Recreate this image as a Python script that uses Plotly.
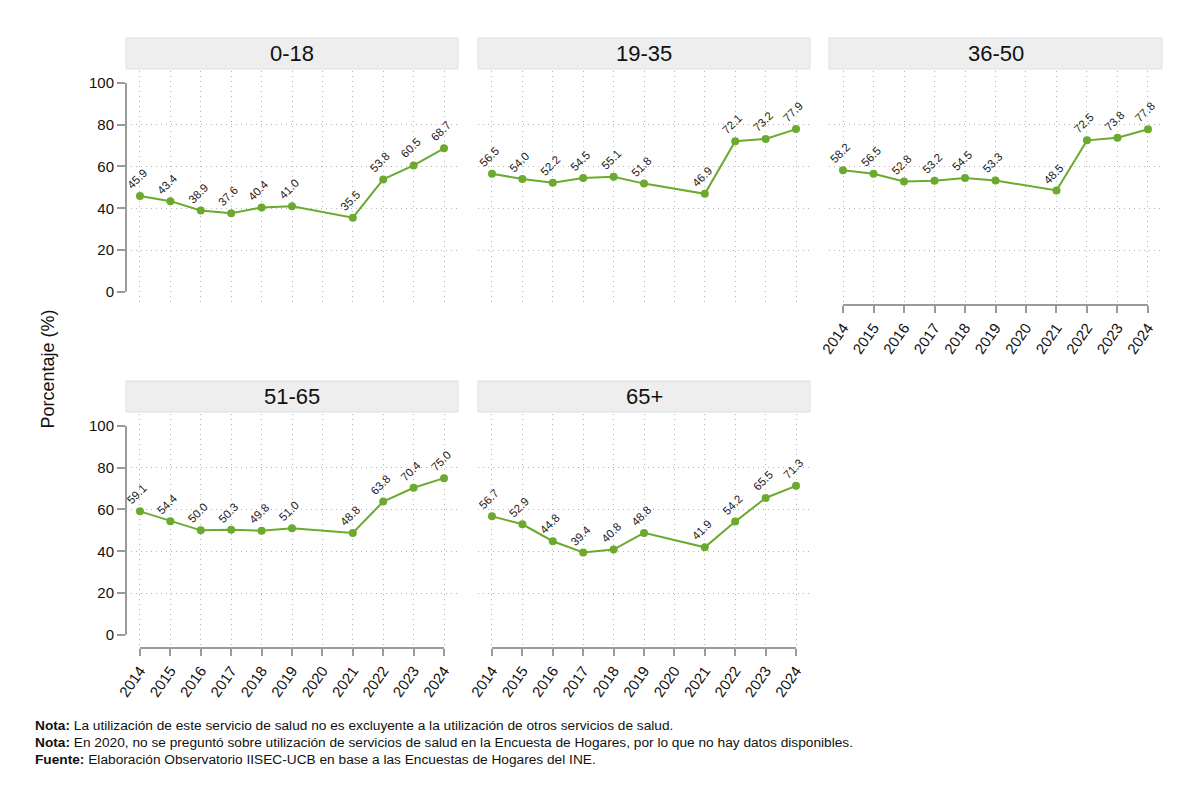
import plotly.graph_objects as go

# ---------------- data ----------------
years = [2014, 2015, 2016, 2017, 2018, 2019, 2021, 2022, 2023, 2024]
tick_years = [2014, 2015, 2016, 2017, 2018, 2019, 2020, 2021, 2022, 2023, 2024]
groups = ["0-18", "19-35", "36-50", "51-65", "65+"]
v_0_18 = [45.9, 43.4, 38.9, 37.6, 40.4, 41.0, 35.5, 53.8, 60.5, 68.7]
v_19_35 = [56.5, 54.0, 52.2, 54.5, 55.1, 51.8, 46.9, 72.1, 73.2, 77.9]
v_36_50 = [58.2, 56.5, 52.8, 53.2, 54.5, 53.3, 48.5, 72.5, 73.8, 77.8]
v_51_65 = [59.1, 54.4, 50.0, 50.3, 49.8, 51.0, 48.8, 63.8, 70.4, 75.0]
v_65 = [56.7, 52.9, 44.8, 39.4, 40.8, 48.8, 41.9, 54.2, 65.5, 71.3]
series = [v_0_18, v_19_35, v_36_50, v_51_65, v_65]
y_ticks = [0, 20, 40, 60, 80, 100]
y_grid = [20, 40, 60, 80]

notes = [
    "<b>Nota:</b> La utilización de este servicio de salud no es excluyente a la utilización de otros servicios de salud.",
    "<b>Nota:</b> En 2020, no se preguntó sobre utilización de servicios de salud en la Encuesta de Hogares, por lo que no hay datos disponibles.",
    "<b>Fuente:</b> Elaboración Observatorio IISEC-UCB en base a las Encuestas de Hogares del INE.",
]

# ---------------- layout geometry (pixels) ----------------
W, H = 1200, 801
GREEN = "#6BAA2F"
AXC = "#9A9A9A"
GRIDC = "#B5B5B5"
FONT = "Liberation Sans, Arial, sans-serif"
col_px = [(126, 458), (478, 810), (829, 1162)]
row_px = [(71, 305), (414, 648)]
head_px = [(38, 69), (381, 412)]
positions = [(0, 0), (0, 1), (0, 2), (1, 0), (1, 1)]


def px_x(p):
    return p / W


def px_y(p):
    return 1 - p / H


fig = go.Figure()
shapes = []
annotations = []

for i, (g, vals) in enumerate(zip(groups, series)):
    r, c = positions[i]
    n = i + 1
    xa = "x" if n == 1 else f"x{n}"
    ya = "y" if n == 1 else f"y{n}"
    fig.add_trace(go.Scatter(
        x=years, y=vals, xaxis=xa, yaxis=ya, mode="lines+markers",
        line=dict(color=GREEN, width=2), marker=dict(color=GREEN, size=8),
        showlegend=False, hoverinfo="x+y"))

    show_x = (r == 1) or (c == 2)
    show_y = (c == 0)
    xd = [px_x(col_px[c][0]), px_x(col_px[c][1])]
    yd = [px_y(row_px[r][1]), px_y(row_px[r][0])]
    xkey = "xaxis" if n == 1 else f"xaxis{n}"
    ykey = "yaxis" if n == 1 else f"yaxis{n}"
    fig.update_layout(**{
        xkey: dict(
            domain=xd, anchor=ya, range=[2013.54, 2024.46], automargin=False,
            tickmode="array", tickvals=tick_years,
            ticktext=[str(t) for t in tick_years],
            showticklabels=show_x, ticks="outside" if show_x else "",
            ticklen=7, tickwidth=2, tickcolor=AXC, tickangle=-55,
            tickfont=dict(family=FONT, size=15, color="#111"),
            showgrid=True, gridcolor=GRIDC, gridwidth=1, griddash="1px,4px",
            showline=False, zeroline=False, fixedrange=True),
        ykey: dict(
            domain=yd, anchor=xa, range=[-6.3, 105.7], automargin=False,
            tickmode="array", tickvals=y_ticks,
            showticklabels=show_y, ticks="outside" if show_y else "",
            ticklen=8, tickwidth=2, tickcolor=AXC,
            tickfont=dict(family=FONT, size=15, color="#111"),
            showgrid=False, zeroline=False, showline=False,
            minor=dict(tickmode="array", tickvals=y_grid, showgrid=True,
                       gridcolor=GRIDC, gridwidth=1, griddash="1px,4px",
                       ticks=""),
            fixedrange=True),
    })

    # axis lines spanning only the tick range
    if show_y:
        shapes.append(dict(type="line", xref=f"{xa} domain", yref=ya,
                           x0=0, x1=0, y0=0, y1=100,
                           line=dict(color=AXC, width=2)))
    if show_x:
        shapes.append(dict(type="line", xref=xa, yref=f"{ya} domain",
                           x0=2014, x1=2024, y0=0, y1=0,
                           line=dict(color=AXC, width=2)))

    # header strip
    shapes.append(dict(type="rect", xref="paper", yref="paper",
                       x0=xd[0], x1=xd[1],
                       y0=px_y(head_px[r][1]), y1=px_y(head_px[r][0]),
                       fillcolor="#EEEEEE", line=dict(color="#D5E3EC", width=1),
                       layer="below"))
    annotations.append(dict(xref="paper", yref="paper",
                            x=(xd[0] + xd[1]) / 2,
                            y=px_y((head_px[r][0] + head_px[r][1]) / 2),
                            text=g, showarrow=False, xanchor="center", yanchor="middle",
                            font=dict(family=FONT, size=22, color="#111")))

    # data labels
    for yr, v in zip(years, vals):
        annotations.append(dict(xref=xa, yref=ya, x=yr, y=v, text=f"{v:.1f}",
                                showarrow=False, textangle=-45,
                                xshift=-3, yshift=17,
                                font=dict(family=FONT, size=11.5, color="#222")))

# y axis title
annotations.append(dict(xref="paper", yref="paper", x=px_x(47.5), y=px_y(369),
                        text="Porcentaje (%)", showarrow=False, textangle=-90,
                        xanchor="center", yanchor="middle",
                        font=dict(family=FONT, size=18, color="#111")))

# notes
for k, t in enumerate(notes):
    annotations.append(dict(xref="paper", yref="paper", x=px_x(33), y=px_y(725 + 17 * k),
                            text=t, showarrow=False, xanchor="left", yanchor="middle",
                            font=dict(family=FONT, size=13.7, color="#111")))

fig.update_layout(
    width=W, height=H,
    margin=dict(l=0, r=0, t=0, b=0, pad=0, autoexpand=False),
    paper_bgcolor="white", plot_bgcolor="white",
    shapes=shapes, annotations=annotations,
    font=dict(family=FONT),
)

fig.write_html("out.html")
